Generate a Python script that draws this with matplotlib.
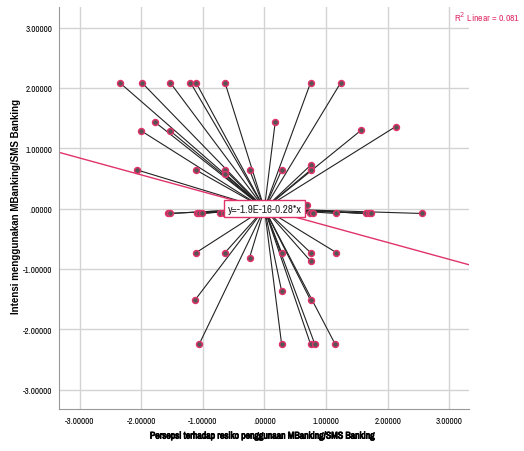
import numpy as np
import matplotlib
matplotlib.use("Agg")
import matplotlib.pyplot as plt
import matplotlib.patheffects as pe
from matplotlib.ticker import FuncFormatter

# standardized scores
x_vals = [-2.35, -1.99, -1.53, -1.20, -1.11, -0.64, 0.75, 1.24,
          -1.77, -2.00, -1.53, 0.175, 1.57, 2.13,
          -2.06, -1.11, -0.64, -0.64, -0.24, 0.28, 0.75, 0.75,
          0.69,
          -1.56, -1.53, -1.10, -1.06, -1.02, -0.72, -0.66, -0.35, 0.35,
          0.74, 0.79, 1.16, 1.65, 1.69, 1.73, 2.56,
          -1.11, -0.64, -0.24, -1.13, -1.06,
          0.28, 0.75, 0.75, 1.17, 0.28, 0.75, 0.28, 0.75, 0.82, 1.15]
y_vals = [2.09, 2.09, 2.09, 2.09, 2.09, 2.09, 2.09, 2.09,
          1.43, 1.29, 1.29, 1.43, 1.30, 1.36,
          0.64, 0.64, 0.64, 0.58, 0.64, 0.64, 0.72, 0.64,
          0.06,
          -0.08, -0.08, -0.08, -0.08, -0.08, -0.08, -0.08, -0.08, -0.08,
          -0.08, -0.08, -0.08, -0.08, -0.08, -0.08, -0.08,
          -0.73, -0.73, -0.81, -1.52, -2.25,
          -0.73, -0.73, -0.87, -0.73, -1.37, -1.52, -2.25, -2.25, -2.25, -2.25]

centroid = (0.0, 0.0)
fit_intercept = -1.9e-16
fit_slope = -0.28
r_squared = 0.081
ticks = [-3, -2, -1, 0, 1, 2, 3]

pink = "#e0336a"
narrow = ["Archivo Narrow", "DejaVu Sans"]
fake_bold = [pe.withStroke(linewidth=0.6, foreground="black")]


def spss_fmt(v, pos=None):
    s = f"{v:.5f}"
    if s.startswith("0."):
        s = s[1:]
    elif s.startswith("-0."):
        s = "-" + s[2:]
    return s


fig = plt.figure(figsize=(5.24, 4.52), dpi=100)
ax = fig.add_axes([0.113, 0.093, 0.782, 0.889])
ax.set_xlim(-3.33, 3.32)
ax.set_ylim(-3.32, 3.34)

# spikes to centroid
for x, y in zip(x_vals, y_vals):
    ax.plot([centroid[0], x], [centroid[1], y], color="#222222", lw=0.8, zorder=2)

ax.scatter(x_vals, y_vals, s=18, facecolor="#555555", edgecolor=pink, linewidths=1.1, zorder=3)

# linear fit line over full x range
xl = np.array(ax.get_xlim())
ax.plot(xl, fit_intercept + fit_slope * xl, color=pink, lw=1.0, zorder=2.5)

ax.text(0, 0, "y=-1.9E-16-0.28*x", ha="center", va="center", fontsize=8,
        family=narrow, color="#222222", zorder=5,
        bbox=dict(boxstyle="square,pad=0.3", fc="white", ec=pink, lw=1.0))

ax.set_xticks(ticks)
ax.set_yticks(ticks)
ax.xaxis.set_major_formatter(FuncFormatter(spss_fmt))
ax.yaxis.set_major_formatter(FuncFormatter(spss_fmt))
ax.tick_params(length=0, labelsize=6.5, pad=5)
for lab in ax.get_xticklabels() + ax.get_yticklabels():
    lab.set_family(narrow)
ax.grid(True, color="#d3d3d3", lw=1.0, zorder=0)
ax.set_axisbelow(True)
for side in ["top", "right"]:
    ax.spines[side].set_visible(False)
for side in ["left", "bottom"]:
    ax.spines[side].set_color("#999999")

fig.text(0.502, 0.033, "Persepsi terhadap resiko penggunaan MBanking/SMS Banking",
         ha="center", va="center", fontsize=7, family=narrow, path_effects=fake_bold)
fig.text(0.031, 0.543, "Intensi menggunakan MBanking/SMS Banking", rotation=90,
         ha="center", va="center", fontsize=7, fontweight="bold", family="Liberation Sans")

fig.text(0.993, 0.962, "R$^2$ Linear = " + f"{r_squared:.3f}", ha="right", va="center",
         fontsize=7, color=pink, family=narrow)

fig.savefig("out.png", dpi=100)
